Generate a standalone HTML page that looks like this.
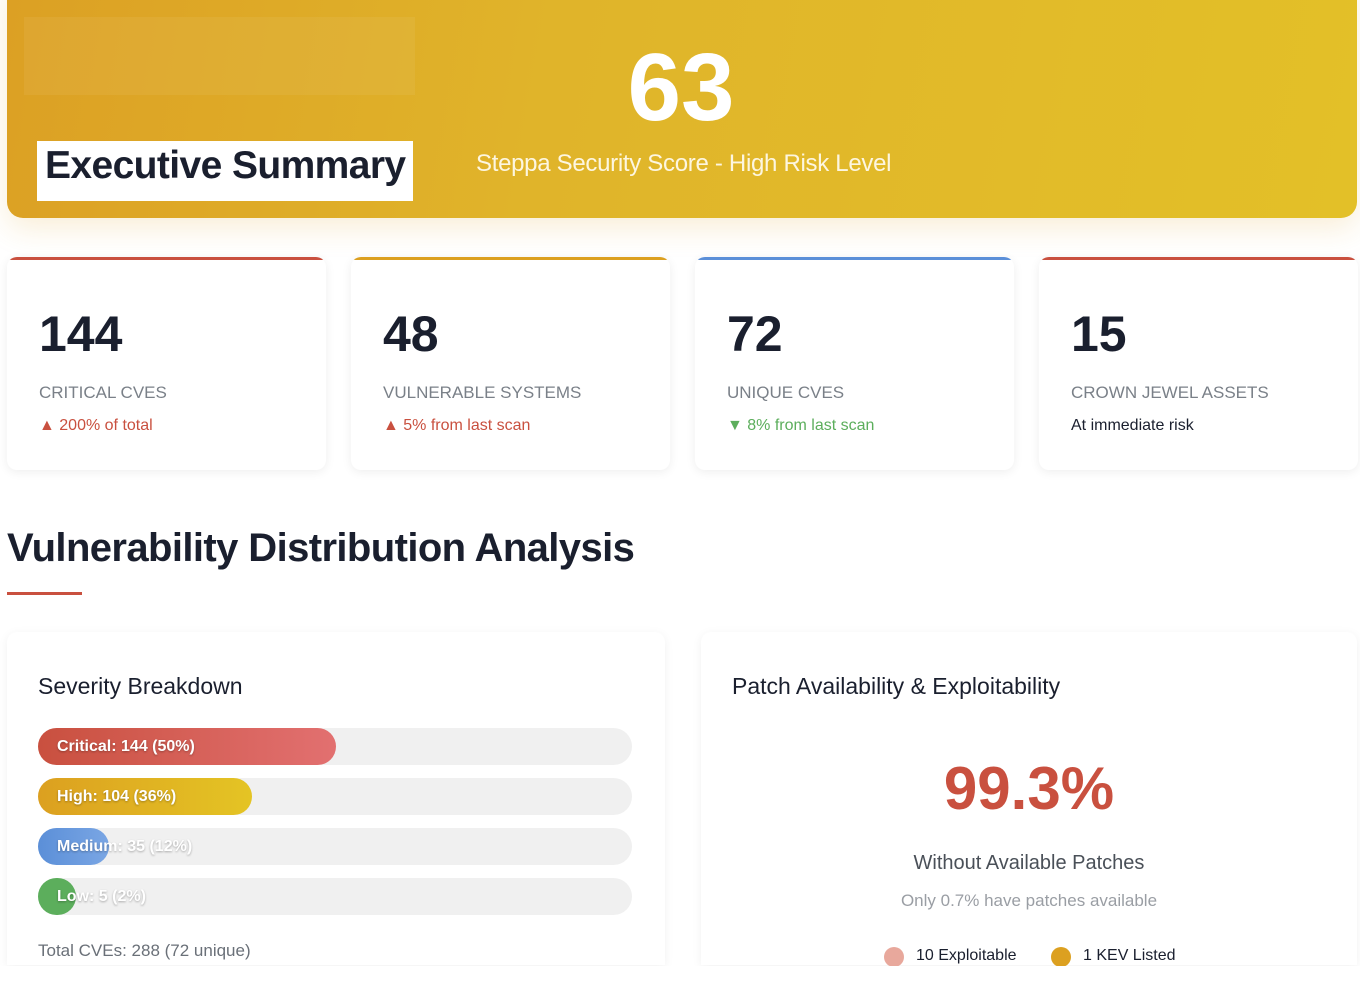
<!DOCTYPE html>
<html><head><meta charset="utf-8"><style>
*{margin:0;padding:0;box-sizing:border-box}
body{width:1360px;height:984px;background:#fff;font-family:"Liberation Sans",sans-serif;position:relative;overflow:hidden;color:#1a1f2e}
.a{position:absolute;white-space:nowrap}
.hdr{left:7px;top:-20px;width:1350px;height:238px;border-radius:16px;background:linear-gradient(100deg,#dca024 0%,#e0b42a 40%,#e3c028 100%);box-shadow:0 10px 30px rgba(220,160,36,0.18)}
.card{width:319px;height:213px;background:#fff;border-radius:10px;box-shadow:0 2px 10px rgba(0,0,0,0.07);overflow:hidden}
.card .bar{position:absolute;left:0;top:0;width:100%;height:3px}
.num{font-size:50px;font-weight:bold;color:#1a1f2e;left:32px;top:48px}
.lbl{font-size:17px;color:#7a8088;left:32px;top:126px}
.sub{font-size:16px;left:32px;top:160px}
.panel{background:#fff;border-radius:10px;box-shadow:0 2px 10px rgba(0,0,0,0.06)}
.track{left:38px;width:594px;height:37px;border-radius:19px;background:#f0f0f0}
.fill{position:absolute;left:0;top:0;height:37px;border-radius:19px}
.bl{position:absolute;left:19px;top:10px;font-size:16px;font-weight:bold;color:#fff;text-shadow:0 1px 2px rgba(0,0,0,0.3)}
</style></head><body>
<div class="a hdr"></div>
<div class="a" style="left:24px;top:17px;width:391px;height:78px;background:rgba(255,255,255,0.06)"></div>
<div class="a" style="left:37px;top:141px;width:376px;height:60px;background:#fff"></div>
<div class="a" style="left:45px;top:144px;font-size:39px;font-weight:bold;color:#1a1f2e;letter-spacing:-0.6px">Executive Summary</div>
<div class="a" style="left:581px;top:36px;width:200px;text-align:center;font-size:96px;font-weight:bold;color:#fff;line-height:104px">63</div>
<div class="a" style="left:476px;top:150px;font-size:24px;color:#fdf6e0;letter-spacing:-0.3px">Steppa Security Score - High Risk Level</div>

<div class="a card" style="left:7px;top:257px"><div class="bar" style="background:#c9503f"></div><div class="a num">144</div><div class="a lbl">CRITICAL CVES</div><div class="a sub" style="color:#c9503f">▲ 200% of total</div></div>
<div class="a card" style="left:351px;top:257px"><div class="bar" style="background:#dca020"></div><div class="a num">48</div><div class="a lbl">VULNERABLE SYSTEMS</div><div class="a sub" style="color:#c9503f">▲ 5% from last scan</div></div>
<div class="a card" style="left:695px;top:257px"><div class="bar" style="background:#5b8fd8"></div><div class="a num">72</div><div class="a lbl">UNIQUE CVES</div><div class="a sub" style="color:#5cae5c">▼ 8% from last scan</div></div>
<div class="a card" style="left:1039px;top:257px"><div class="bar" style="background:#c9503f"></div><div class="a num">15</div><div class="a lbl">CROWN JEWEL ASSETS</div><div class="a sub" style="color:#1a1f2e">At immediate risk</div></div>

<div class="a" style="left:7px;top:526px;font-size:40px;font-weight:bold;letter-spacing:-0.6px">Vulnerability Distribution Analysis</div>
<div class="a" style="left:7px;top:592px;width:75px;height:3px;background:#c9503f"></div>

<div class="a panel" style="left:7px;top:632px;width:658px;height:333px;border-radius:10px 10px 0 0"></div>
<div class="a panel" style="left:701px;top:632px;width:656px;height:333px;border-radius:10px 10px 0 0"></div>

<div class="a" style="left:38px;top:673px;font-size:23px;color:#1a1f2e">Severity Breakdown</div>
<div class="a track" style="top:728px"><div class="fill" style="width:298px;background:linear-gradient(90deg,#c9503f,#e27070)"></div><div class="bl">Critical: 144 (50%)</div></div>
<div class="a track" style="top:778px"><div class="fill" style="width:214px;background:linear-gradient(90deg,#dca020,#e4c424)"></div><div class="bl">High: 104 (36%)</div></div>
<div class="a track" style="top:828px"><div class="fill" style="width:71px;background:linear-gradient(90deg,#5b8fd8,#7aa6e4)"></div><div class="bl">Medium: 35 (12%)</div></div>
<div class="a track" style="top:878px"><div class="fill" style="width:38px;background:#5cae5c"></div><div class="bl">Low: 5 (2%)</div></div>
<div class="a" style="left:38px;top:941px;font-size:17px;color:#6a7078">Total CVEs: 288 (72 unique)</div>

<div class="a" style="left:732px;top:673px;font-size:23px;color:#1a1f2e">Patch Availability &amp; Exploitability</div>
<div class="a" style="left:829px;top:754px;width:400px;text-align:center;font-size:60px;font-weight:bold;color:#c9503f">99.3%</div>
<div class="a" style="left:829px;top:852px;width:400px;text-align:center;font-size:20px;color:#4a5058">Without Available Patches</div>
<div class="a" style="left:829px;top:891px;width:400px;text-align:center;font-size:17px;color:#9a9ea4">Only 0.7% have patches available</div>
<div class="a" style="left:884px;top:947px;width:20px;height:20px;border-radius:50%;background:#e8a89c"></div>
<div class="a" style="left:916px;top:947px;font-size:16px;color:#1a1f2e">10 Exploitable</div>
<div class="a" style="left:1051px;top:947px;width:20px;height:20px;border-radius:50%;background:#dca020"></div>
<div class="a" style="left:1083px;top:947px;font-size:16px;color:#1a1f2e">1 KEV Listed</div>
<div class="a" style="left:0;top:966px;width:1360px;height:18px;background:#fff"></div>
</body></html>
